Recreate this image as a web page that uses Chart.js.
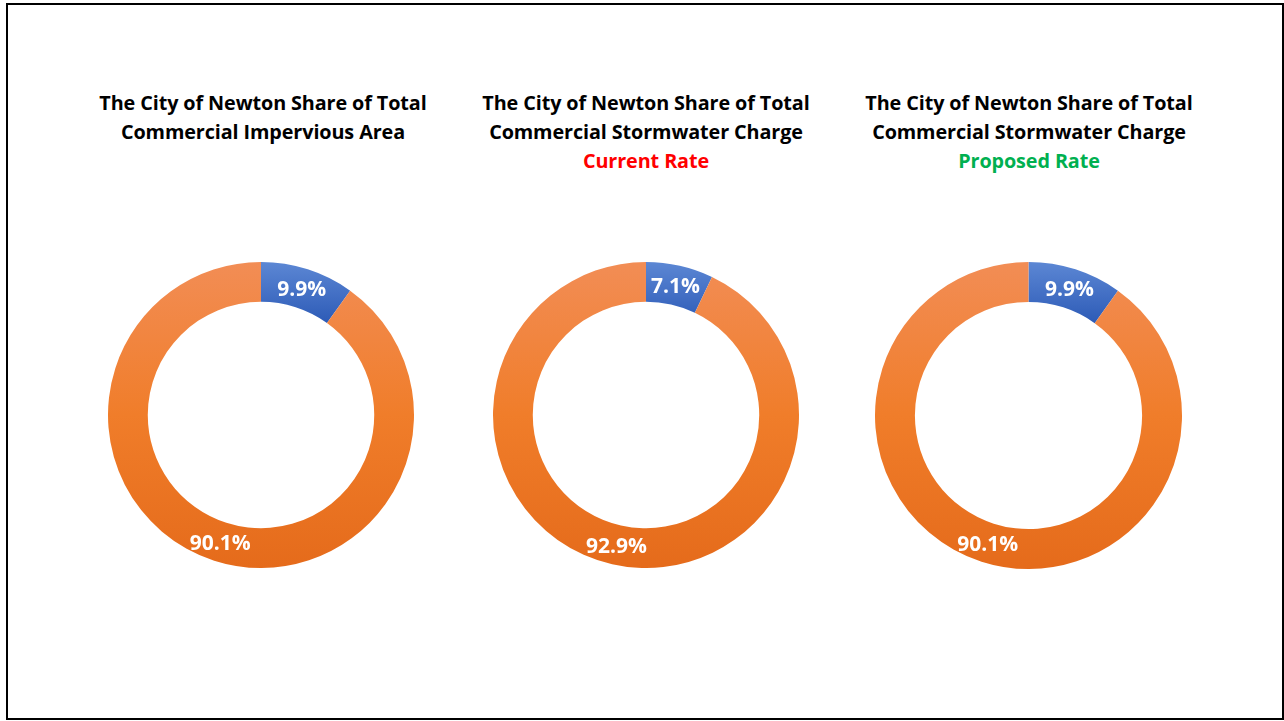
<!DOCTYPE html>
<html>
<head>
<meta charset="utf-8">
<script src="https://cdn.jsdelivr.net/npm/chart.js@4.4.1/dist/chart.umd.min.js"></script>
<style>
  html, body { margin: 0; padding: 0; background: #ffffff; width: 1284px; height: 721px; overflow: hidden; }
  #frame { position: absolute; left: 6px; top: 3px; width: 1274px; height: 713px; border: 2px solid #000; box-sizing: content-box; }
  .title { position: absolute; width: 420px; text-align: center; font-family: "Open Sans", sans-serif; font-weight: 700; font-size: 19.8px; letter-spacing: -0.1px; line-height: 29px; color: #000; top: 88px; white-space: nowrap; }
  .sub-red { color: #FF0000; }
  .sub-green { color: #00B050; }
  canvas { position: absolute; }
</style>
</head>
<body>
<div id="frame"></div>
<div class="title" id="t1" style="left:53px;">The City of Newton Share of Total<br>Commercial Impervious Area</div>
<div class="title" id="t2" style="left:436px;">The City of Newton Share of Total<br>Commercial Stormwater Charge<br><span class="sub-red">Current Rate</span></div>
<div class="title" id="t3" style="left:819px;">The City of Newton Share of Total<br>Commercial Stormwater Charge<br><span class="sub-green">Proposed Rate</span></div>
<div id="w1" style="position:absolute;left:108px;top:262px;width:306px;height:306px;"><canvas id="c1"></canvas></div>
<div id="w2" style="position:absolute;left:493px;top:262px;width:306px;height:306px;"><canvas id="c2"></canvas></div>
<div id="w3" style="position:absolute;left:875px;top:262px;width:307px;height:307px;"><canvas id="c3"></canvas></div>
<script>
const categories = ['City of Newton', 'Other Commercial'];
const imperviousShare = [9.9, 90.1];
const currentChargeShare = [7.1, 92.9];
const proposedChargeShare = [9.9, 90.1];

function fillFor(ctxArg) {
  const chart = ctxArg.chart;
  const area = chart.chartArea;
  if (!area) return ctxArg.dataIndex === 0 ? '#4472C4' : '#ED7D31';
  const c = chart.ctx;
  if (ctxArg.dataIndex === 0) {
    const g = c.createLinearGradient(0, area.top, 0, area.top + 62);
    g.addColorStop(0, '#5C87D4');
    g.addColorStop(1, '#2C5AB6');
    return g;
  }
  const g = c.createLinearGradient(0, area.top, 0, area.bottom);
  g.addColorStop(0, '#F28D55');
  g.addColorStop(0.5, '#F07D2A');
  g.addColorStop(1, '#E56B1B');
  return g;
}

const labelPlugin = {
  id: 'pctLabels',
  afterDatasetsDraw(chart) {
    const ctx = chart.ctx;
    const meta = chart.getDatasetMeta(0);
    const vals = chart.data.datasets[0].data;
    ctx.save();
    ctx.fillStyle = '#ffffff';
    ctx.font = '700 21px "Open Sans", sans-serif';
    ctx.textAlign = 'center';
    ctx.textBaseline = 'middle';
    meta.data.forEach((arc, i) => {
      const p = arc.tooltipPosition();
      ctx.fillText(vals[i].toFixed(1) + '%', p.x, p.y + 2);
    });
    ctx.restore();
  }
};

function makeChart(id, values) {
  return new Chart(document.getElementById(id), {
    type: 'doughnut',
    data: {
      labels: categories,
      datasets: [{
        data: values,
        backgroundColor: fillFor,
        borderWidth: 0,
        hoverOffset: 0
      }]
    },
    options: {
      responsive: true,
      maintainAspectRatio: false,
      animation: false,
      cutout: '74%',
      layout: { padding: 0 },
      plugins: {
        legend: { display: false },
        tooltip: { enabled: false },
        title: { display: false }
      },
      events: []
    },
    plugins: [labelPlugin]
  });
}

makeChart('c1', imperviousShare);
makeChart('c2', currentChargeShare);
makeChart('c3', proposedChargeShare);
</script>
</body>
</html>
